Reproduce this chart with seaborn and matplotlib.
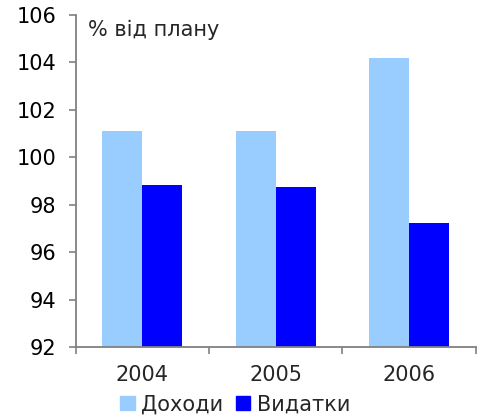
import numpy as np
import pandas as pd
import seaborn as sns
import matplotlib.pyplot as plt

years = ["2004", "2005", "2006"]
revenue = [101.1, 101.1, 104.2]     # Доходи
spending = [98.83, 98.75, 97.23]    # Видатки
series_names = ["Доходи", "Видатки"]
colors = ["#99CCFF", "#0000FF"]

df = pd.DataFrame({
    "year": years * 2,
    "value": revenue + spending,
    "series": [series_names[0]] * 3 + [series_names[1]] * 3,
})

sns.set_style("white")
plt.rcParams["font.family"] = ["DejaVu Sans"]

fig = plt.figure(figsize=(4.86, 4.17), dpi=100)
ax = fig.add_axes([0.156, 0.168, 0.823, 0.796])

sns.barplot(data=df, x="year", y="value", hue="series", palette=colors,
            width=0.6, gap=0, saturation=1, ax=ax, legend=False)

# bars start at the bottom of the axis (92), not at zero
for p in ax.patches:
    h = p.get_y() + p.get_height()
    p.set_y(92)
    p.set_height(h - 92)
    p.set_linewidth(0)

ax.set_ylim(92, 106)
ax.set_yticks(np.arange(92, 107, 2))
ax.set_xlim(-0.5, 2.5)
ax.set_xticks([-0.5, 0.5, 1.5, 2.5])
ax.set_xticklabels([])
ax.set_xticks([0, 1, 2], minor=True)
ax.set_xticklabels(years, minor=True)
ax.set_xlabel("")
ax.set_ylabel("")

for side in ["top", "right"]:
    ax.spines[side].set_visible(False)
for side in ["left", "bottom"]:
    ax.spines[side].set_color("#808080")
    ax.spines[side].set_linewidth(1.3)

ax.tick_params(axis="both", which="major", direction="out", length=5,
               width=1.2, color="#808080", labelsize=15, labelcolor="black",
               left=True, bottom=True)
ax.tick_params(axis="x", which="minor", bottom=True, length=0,
               labelsize=15, pad=13)
ax.tick_params(axis="y", pad=9)

ax.text(0.03, 0.985, "% від плану", transform=ax.transAxes, fontsize=15,
        va="top", ha="left")

handles = [plt.Rectangle((0, 0), 1, 1, color=c) for c in colors]
fig.legend(handles, series_names, loc="center", bbox_to_anchor=(0.484, 0.03),
           ncol=2, frameon=False, fontsize=15, handlelength=0.7,
           handleheight=0.7, handletextpad=0.3, columnspacing=0.6,
           borderpad=0)

fig.savefig("out.png", dpi=100)
